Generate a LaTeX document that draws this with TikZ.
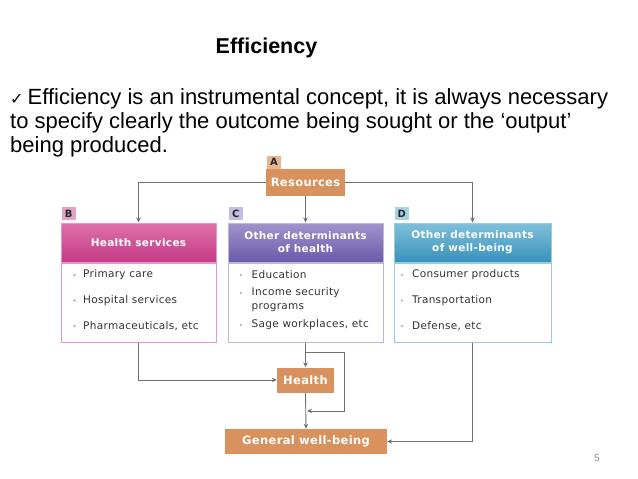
\documentclass[tikz,border=0pt]{standalone}
\usepackage{fontspec}
\setmainfont{Liberation Sans}
\newfontfamily\diagfont{DejaVu Sans}[LetterSpace=3]
\newfontfamily\symfont{DejaVu Sans}
\usetikzlibrary{arrows.meta}

\definecolor{resorange}{RGB}{217,145,94}
\definecolor{labA}{RGB}{232,180,142}
\definecolor{linegray}{RGB}{112,112,112}
\definecolor{pinktop}{RGB}{222,112,170}
\definecolor{pinkbot}{RGB}{196,58,134}
\definecolor{pinkline}{RGB}{229,150,196}
\definecolor{pinklab}{RGB}{227,163,199}
\definecolor{purptop}{RGB}{160,148,204}
\definecolor{purpbot}{RGB}{106,90,170}
\definecolor{purpline}{RGB}{189,181,218}
\definecolor{purplab}{RGB}{196,190,224}
\definecolor{bluetop}{RGB}{128,192,218}
\definecolor{bluebot}{RGB}{56,146,188}
\definecolor{blueline}{RGB}{155,204,222}
\definecolor{bluelab}{RGB}{168,211,230}

\tikzset{
  orangebox/.style={fill=resorange, text=white, inner sep=0pt,
    font=\diagfont\bfseries\fontsize{11.5}{13}\selectfont},
  letterbox/.style={minimum width=14pt, minimum height=13pt, inner sep=0pt, text=black!85,
    font=\diagfont\bfseries\fontsize{10}{10}\selectfont},
  headbox/.style={minimum width=155pt, minimum height=39pt, inner sep=0pt,
    text=white, align=center, line width=1pt,
    font=\diagfont\bfseries\fontsize{10.5}{13}\selectfont},
  bodybox/.style={minimum width=155pt, minimum height=79pt, inner sep=0pt,
    fill=white, line width=1pt},
  item/.style={anchor=west, inner sep=0pt, align=left, text=black!80,
    font=\diagfont\fontsize{10.5}{14}\selectfont},
  link/.style={draw=linegray, line width=0.9pt, -{Stealth[length=5pt,width=4.5pt]}},
}

\begin{document}
\begin{tikzpicture}[x=1pt,y=-1pt]
    \useasboundingbox[fill=white] (0,0) rectangle (638,479);
    % Titre et texte
    \node[anchor=base, font=\bfseries\fontsize{21.5}{24}\selectfont] (title) at (266.5,53) {Efficiency};
    \node[anchor=base west, inner sep=0pt, font=\fontsize{22}{24}\selectfont] (line1) at (10,104)
        {{\symfont\fontsize{16}{20}\selectfont ✓}\hspace{-2pt} Efficiency is an instrumental concept, it is always necessary};
    \node[anchor=base west, inner sep=0pt, font=\fontsize{22}{24}\selectfont] (line2) at (10,128)
        {to specify clearly the outcome being sought or the ‘output’};
    \node[anchor=base west, inner sep=0pt, font=\fontsize{22}{24}\selectfont] (line3) at (10,152)
        {being produced.};
    % Ressources
    \node[orangebox, minimum width=79pt, minimum height=27pt] (res) at (305.5,182.5) {Resources};
    \node[letterbox, fill=labA, anchor=south west] (labA) at ([xshift=1pt]res.north west) {A};
    % Trois blocs
    \node[headbox, top color=pinktop, bottom color=pinkbot, draw=pinkline] (headB) at (138.5,242.5) {Health services};
    \node[bodybox, draw=pinkline, anchor=north] (bodyB) at (headB.south) {};
    \node[letterbox, fill=pinklab, anchor=south west] (labB) at ([yshift=2pt,xshift=1pt]headB.north west) {B};
    \node[headbox, top color=purptop, bottom color=purpbot, draw=purpline] (headC) at (305.5,242.5) {Other determinants\\of health};
    \node[bodybox, draw=purpline, anchor=north] (bodyC) at (headC.south) {};
    \node[letterbox, fill=purplab, anchor=south west] (labC) at ([yshift=2pt,xshift=1pt]headC.north west) {C};
    \node[headbox, minimum width=157pt, top color=bluetop, bottom color=bluebot, draw=blueline] (headD) at (472.5,242.5) {Other determinants\\of well-being};
    \node[bodybox, minimum width=157pt, draw=blueline, anchor=north] (bodyD) at (headD.south) {};
    \node[letterbox, fill=bluelab, anchor=south west] (labD) at ([yshift=2pt,xshift=1pt]headD.north west) {D};
    % Listes
    \foreach \yy/\txt [count=\i] in {275/Primary care, 300.5/Hospital services, 326/{Pharmaceuticals, etc}}{
        \fill[pinkline] (74.5,\yy) circle (1.3pt);
        \node[item] (itemB\i) at (83,\yy) {\txt};
    }
    \foreach \yy/\txt [count=\i] in {275/Education, 300/{Income security\\programs}, 325/{Sage workplaces, etc}}{
        \node[item] (itemC\i) at (251.5,\yy) {\txt};
    }
    \foreach \yy in {275,293,325}
        \fill[purpline] (241,\yy) circle (1.3pt);
    \foreach \yy/\txt [count=\i] in {275/Consumer products, 300.5/Transportation, 326/{Defense, etc}}{
        \fill[blueline] (402,\yy) circle (1.3pt);
        \node[item] (itemD\i) at (412,\yy) {\txt};
    }
    % Resultats
    \node[orangebox, minimum width=57pt, minimum height=25pt] (health) at (305.5,380) {Health};
    \node[orangebox, minimum width=162pt, minimum height=25pt] (gwb) at (306,441.5) {General well-being};
    % Fleches
    \draw[link] (res.west) -| (headB.north);
    \draw[link] (res.east) -| (headD.north);
    \draw[link] (res.south) -- (headC.north);
    \draw[link] (bodyB.south) |- (health.west);
    \draw[link] (bodyC.south) -- (health.north);
    \coordinate (loopA) at (305.5,352);
    \coordinate (loopB) at (344,411);
    \coordinate (loopC) at (307,411);
    \draw[link] (loopA) -| (loopB) -- (loopC);
    \draw[link] (health.south) -- (gwb.north);
    \draw[link] (bodyD.south) |- (gwb.east);
    % Numero
    \node[text=black!45, font=\fontsize{10}{12}\selectfont] (pagenum) at (597,458) {5};
\end{tikzpicture}
\end{document}
